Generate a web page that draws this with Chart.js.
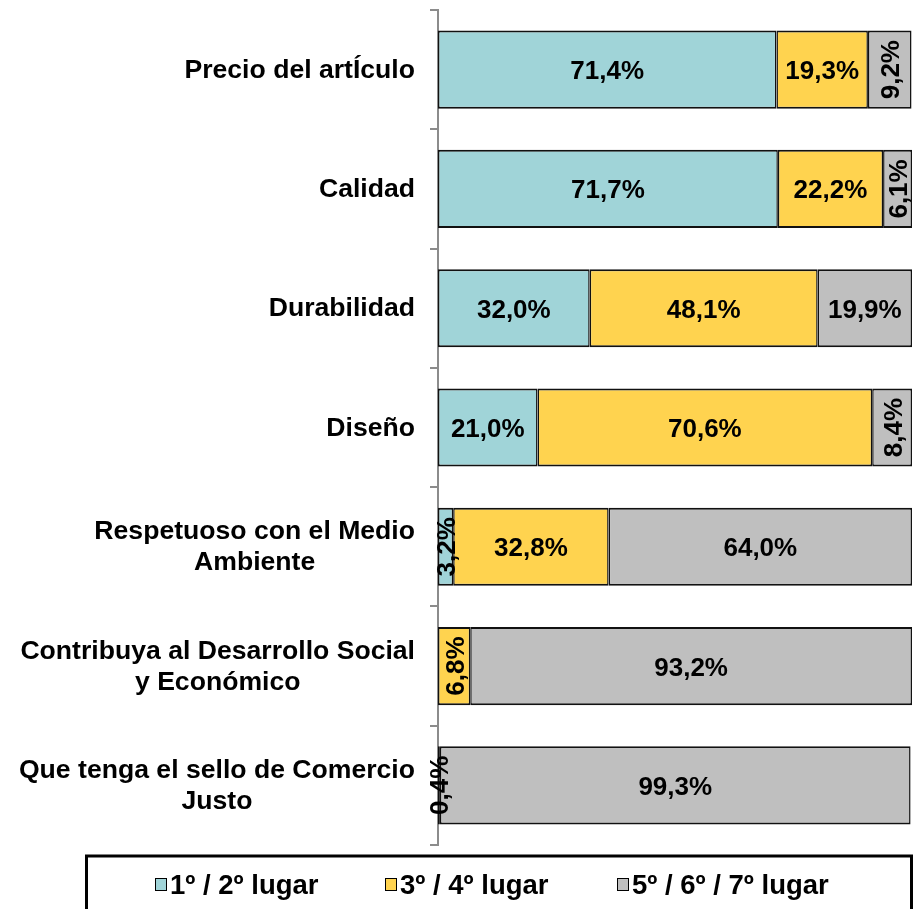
<!DOCTYPE html>
<html>
<head>
<meta charset="utf-8">
<script src="https://cdn.jsdelivr.net/npm/chart.js@4.4.1/dist/chart.umd.min.js"></script>
<style>
  html, body { margin: 0; padding: 0; background: #ffffff; }
  #wrap { position: relative; width: 916px; height: 909px; }
</style>
</head>
<body>
<div id="wrap"><canvas id="c"></canvas></div>
<script>
const categories = [
  'Precio del artÍculo',
  'Calidad',
  'Durabilidad',
  'Diseño',
  ['Respetuoso con el Medio', 'Ambiente'],
  ['Contribuya al Desarrollo Social', 'y Económico'],
  ['Que tenga el sello de Comercio', 'Justo']
];
const seriesNames = ['1º / 2º lugar', '3º / 4º lugar', '5º / 6º / 7º lugar'];
const lugar12 = [71.4, 71.7, 32.0, 21.0, 3.2, null, 0.4];
const lugar34 = [19.3, 22.2, 48.1, 70.6, 32.8, 6.8, null];
const lugar567 = [9.2, 6.1, 19.9, 8.4, 64.0, 93.2, 99.3];

const colors = ['#A0D4D8', '#FFD34F', '#BFBFBF'];
const FONT = '"Liberation Sans", Arial, sans-serif';

function fmt(v) { return v.toFixed(1).replace('.', ',') + '%'; }

const categoryLabels = {
  id: 'categoryLabels',
  afterDraw(chart) {
    const ctx = chart.ctx;
    const y = chart.scales.y;
    const right = chart.chartArea.left - 23;
    ctx.save();
    ctx.font = 'bold 26.6px ' + FONT;
    ctx.fillStyle = '#000';
    ctx.textBaseline = 'alphabetic';
    categories.forEach((lab, i) => {
      const lines = Array.isArray(lab) ? lab : [lab];
      const cy = y.getPixelForValue(i);
      const w = Math.max(...lines.map(l => ctx.measureText(l).width));
      const center = right - w / 2;
      const lh = 31;
      const startBase = cy + 8 - (lines.length - 1) * lh / 2;
      lines.forEach((l, k) => {
        ctx.textAlign = 'center';
        ctx.fillText(l, center, startBase + k * lh);
      });
    });
    ctx.restore();
  }
};

const valueLabels = {
  id: 'valueLabels',
  afterDatasetsDraw(chart) {
    const ctx = chart.ctx;
    ctx.save();
    ctx.font = 'bold 26px ' + FONT;
    ctx.fillStyle = '#000';
    ctx.textAlign = 'center';
    ctx.textBaseline = 'alphabetic';
    chart.data.datasets.forEach((ds, di) => {
      const meta = chart.getDatasetMeta(di);
      meta.data.forEach((el, i) => {
        const v = ds.data[i];
        if (v === null || v === undefined) return;
        const p = el.getProps(['x', 'y', 'base'], true);
        const cx = (p.x + p.base) / 2;
        const cy = p.y;
        const txt = fmt(v);
        if (v < 10) {
          ctx.save();
          ctx.translate(cx, cy);
          ctx.rotate(-Math.PI / 2);
          ctx.fillText(txt, 0, 9.5);
          ctx.restore();
        } else {
          ctx.fillText(txt, cx, cy + 9.5);
        }
      });
    });
    ctx.restore();
  }
};

const boxLegend = {
  id: 'boxLegend',
  afterDraw(chart) {
    const ctx = chart.ctx;
    ctx.save();
    ctx.strokeStyle = '#000';
    ctx.lineWidth = 3;
    ctx.strokeRect(86.5, 856, 825, 70);
    ctx.font = 'bold 27.5px ' + FONT;
    ctx.textBaseline = 'alphabetic';
    ctx.textAlign = 'left';
    const textX = [170, 400, 632];
    chart.data.datasets.forEach((ds, i) => {
      const bx = textX[i] - 15;
      ctx.fillStyle = ds.backgroundColor;
      ctx.fillRect(bx, 878, 11, 12);
      ctx.strokeStyle = '#000';
      ctx.lineWidth = 1;
      ctx.strokeRect(bx + 0.5, 878.5, 11, 12);
      ctx.fillStyle = '#000';
      ctx.fillText(ds.label, textX[i], 894);
    });
    ctx.restore();
  }
};

const datasets = [lugar12, lugar34, lugar567].map((arr, i) => ({
  label: seriesNames[i],
  data: arr,
  backgroundColor: colors[i],
  borderColor: '#111',
  borderWidth: { top: 2, bottom: 2, left: 1.5, right: 1.5 },
  borderSkipped: false,
  barPercentage: 0.655,
  categoryPercentage: 1.0
}));

new Chart(document.getElementById('c'), {
  type: 'bar',
  data: { labels: categories, datasets },
  options: {
    indexAxis: 'y',
    responsive: true,
    maintainAspectRatio: false,
    animation: false,
    layout: { padding: { top: 10, bottom: 64, left: 0, right: 4 } },
    plugins: {
      legend: { display: false },
      tooltip: { enabled: false }
    },
    scales: {
      x: {
        stacked: true,
        min: 0,
        max: 100,
        display: false
      },
      y: {
        stacked: true,
        offset: true,
        afterFit(scale) { scale.width = 438; },
        ticks: { display: false },
        grid: {
          offset: true,
          drawOnChartArea: false,
          drawTicks: true,
          tickLength: 8,
          color: '#8c8c8c',
          lineWidth: 2
        },
        border: { display: true, color: '#8c8c8c', width: 2 }
      }
    }
  },
  plugins: [categoryLabels, valueLabels, boxLegend]
});
</script>
</body>
</html>
